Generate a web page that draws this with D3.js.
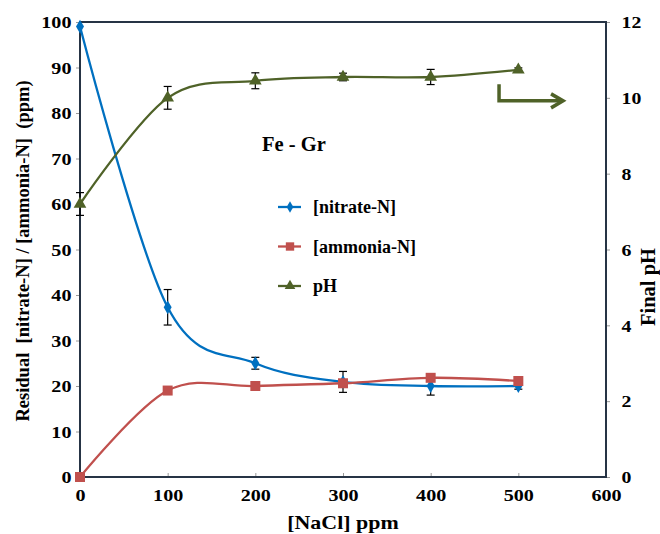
<!DOCTYPE html>
<html>
<head>
<meta charset="utf-8">
<script src="https://cdn.jsdelivr.net/npm/d3@7"></script>
<style>
  body { margin: 0; background: #fff; }
  text { font-family: "Liberation Serif", "Times New Roman", serif; font-weight: bold; fill: #000; }
</style>
</head>
<body>
<div id="chart"></div>
<script>
// NaCl dose (ppm)
var nacl = [0, 100, 200, 300, 400, 500];
// residual nitrate-N / ammonia-N (ppm)
var nitrate = [99, 37.3, 25, 20.9, 20, 20];
var nitrateErr = [0, 3.9, 1.3, 2.3, 2, 0.7];
var ammonia = [0, 19, 20, 20.6, 21.8, 21.1];
// final pH (right axis)
var ph = [7.2, 10.0, 10.45, 10.55, 10.55, 10.74];
var phErr = [0.3, 0.3, 0.21, 0.1, 0.2, 0.05];

var xTicks = [0, 100, 200, 300, 400, 500, 600];
var yTicks = [0, 10, 20, 30, 40, 50, 60, 70, 80, 90, 100];
var pHTicks = [0, 2, 4, 6, 8, 10, 12];

(function() {
    var width = 660, height = 534;
    var plotLeft = 80, plotRight = 606, plotTop = 22, plotBottom = 477;
    var axisColor = "#263445";

    var svg = d3.select("#chart").append("svg")
        .attr("width", width)
        .attr("height", height);

    var x = d3.scaleLinear().domain([0, 600]).range([plotLeft, plotRight]);
    var y = d3.scaleLinear().domain([0, 100]).range([plotBottom, plotTop]);
    var y2 = d3.scaleLinear().domain([0, 12]).range([plotBottom, plotTop]);

    // axes
    var gx = svg.append("g")
        .attr("transform", "translate(0," + plotBottom + ")")
        .call(d3.axisBottom(x).tickValues(xTicks).tickSizeInner(-4).tickSizeOuter(0).tickPadding(12));
    gx.selectAll("text").attr("font-size", "16.5px").attr("transform", "scale(1.22,1)");

    var gy = svg.append("g")
        .attr("transform", "translate(" + plotLeft + ",0)")
        .call(d3.axisLeft(y).tickValues(yTicks).tickSize(4).tickPadding(3));
    gy.selectAll("text").attr("font-size", "16.5px").attr("dy", "0.35em").attr("transform", "scale(1.22,1)");

    var gy2 = svg.append("g")
        .attr("transform", "translate(" + plotRight + ",0)")
        .call(d3.axisRight(y2).tickValues(pHTicks).tickSize(4).tickPadding(9));
    gy2.selectAll("text").attr("font-size", "16.5px").attr("dy", "0.35em").attr("transform", "scale(1.2,1)");

    [gx, gy, gy2].forEach(function(g) {
        g.selectAll(".tick line").attr("stroke", "#9a9a9a");
        g.select(".domain").remove();
        g.attr("font-family", null);
    });

    // plot frame
    svg.append("rect")
        .attr("x", plotLeft).attr("y", plotTop)
        .attr("width", plotRight - plotLeft).attr("height", plotBottom - plotTop)
        .attr("fill", "none")
        .attr("stroke", axisColor)
        .attr("stroke-width", 2);

    // axis titles
    svg.append("text")
        .attr("transform", "translate(23,251) rotate(-90)")
        .attr("text-anchor", "middle")
        .attr("dominant-baseline", "central")
        .attr("font-size", "18.5px")
        .style("white-space", "pre")
        .text("Residual  [nitrate-N] / [ammonia-N]  (ppm)");

    svg.append("text")
        .attr("transform", "translate(648,287) rotate(-90)")
        .attr("text-anchor", "middle")
        .attr("dominant-baseline", "central")
        .attr("font-size", "20.5px")
        .text("Final pH");

    svg.append("text")
        .attr("transform", "translate(343,529) scale(1.22,1)")
        .attr("text-anchor", "middle")
        .attr("font-size", "18px")
        .text("[NaCl] ppm");

    svg.append("text")
        .attr("x", 262).attr("y", 151)
        .attr("font-size", "20.5px")
        .text("Fe - Gr");

    var curve = d3.curveCardinal.tension(0);

    var series = [
        { name: "[nitrate-N]", values: nitrate, err: nitrateErr, scale: y, color: "#0070C0", marker: d3.symbolDiamond, size: 55 },
        { name: "[ammonia-N]", values: ammonia, err: null, scale: y, color: "#C0504D", marker: d3.symbolSquare, size: 100 },
        { name: "pH", values: ph, err: phErr, scale: y2, color: "#4F6228", marker: d3.symbolTriangle, size: 70 }
    ];

    series.forEach(function(s) {
        var pts = nacl.map(function(n, i) { return [x(n), s.scale(s.values[i])]; });
        svg.append("path")
            .attr("d", d3.line().curve(curve)(pts))
            .attr("fill", "none")
            .attr("stroke", s.color)
            .attr("stroke-width", 2.3);
    });

    // error bars
    series.forEach(function(s) {
        if (!s.err) return;
        nacl.forEach(function(n, i) {
            if (!s.err[i]) return;
            var cx = x(n),
                y0 = s.scale(s.values[i] - s.err[i]),
                y1 = s.scale(s.values[i] + s.err[i]);
            var g = svg.append("g").attr("stroke", "#000").attr("stroke-width", 1.2);
            g.append("line").attr("x1", cx).attr("x2", cx).attr("y1", y0).attr("y2", y1);
            g.append("line").attr("x1", cx - 4).attr("x2", cx + 4).attr("y1", y0).attr("y2", y0);
            g.append("line").attr("x1", cx - 4).attr("x2", cx + 4).attr("y1", y1).attr("y2", y1);
        });
    });

    // markers
    series.forEach(function(s) {
        svg.selectAll(null)
            .data(nacl)
            .enter().append("path")
            .attr("d", d3.symbol().type(s.marker).size(s.size))
            .attr("transform", function(n, i) { return "translate(" + x(n) + "," + s.scale(s.values[i]) + ")"; })
            .attr("fill", s.color);
    });

    // legend
    var legend = svg.append("g");
    series.forEach(function(s, i) {
        var ly = 207 + i * 39.5;
        legend.append("line")
            .attr("x1", 278).attr("x2", 301)
            .attr("y1", ly).attr("y2", ly)
            .attr("stroke", s.color).attr("stroke-width", 2.3);
        legend.append("path")
            .attr("d", d3.symbol().type(s.marker).size(s.size * 0.7))
            .attr("transform", "translate(290," + ly + ")")
            .attr("fill", s.color);
        legend.append("text")
            .attr("x", 313).attr("y", ly)
            .attr("dominant-baseline", "central")
            .attr("font-size", "18px")
            .text(s.name);
    });

    // arrow pointing to the pH axis
    var ax0 = x(478), ax1 = x(551), ayTop = y2(10.36), ayMid = y2(9.92);
    svg.append("path")
        .attr("d", "M" + ax0 + "," + ayTop + "V" + ayMid + "H" + ax1)
        .attr("fill", "none")
        .attr("stroke", "#4F6228")
        .attr("stroke-width", 3.5);
    svg.append("path")
        .attr("d", "M" + (ax1 - 12) + "," + (ayMid - 7) + "L" + ax1 + "," + ayMid + "L" + (ax1 - 12) + "," + (ayMid + 7))
        .attr("fill", "none")
        .attr("stroke", "#4F6228")
        .attr("stroke-width", 3.5);
})();
</script>
</body>
</html>
